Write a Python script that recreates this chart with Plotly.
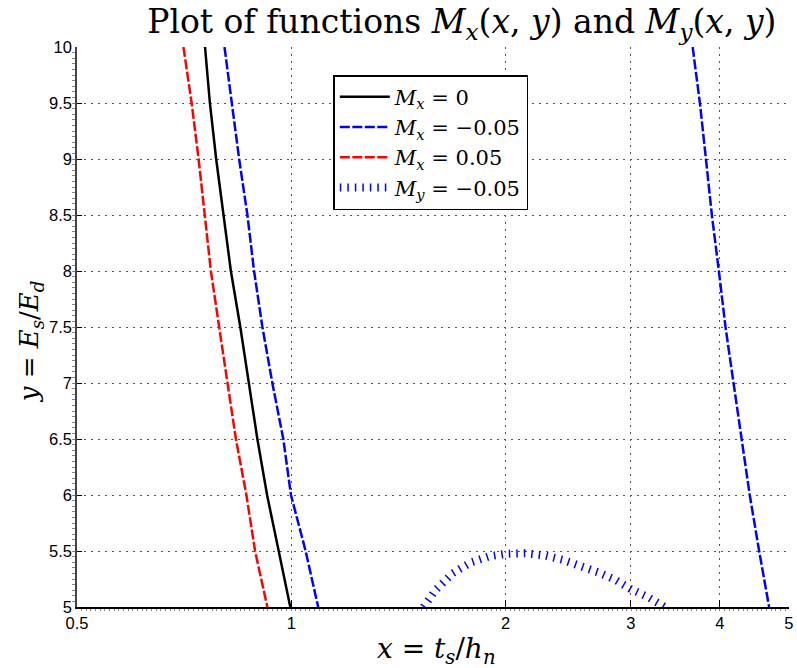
import plotly.graph_objects as go

# y = Es/Ed levels at which the contours were traced
y_levels = [10, 9.5, 9, 8.5, 8, 7.5, 7, 6.5, 6, 5.5, 5]

# Mx = 0 contour
x_mx0 = [0.7565, 0.7685, 0.7843, 0.8024, 0.8225, 0.8480, 0.8726, 0.8961, 0.9247, 0.9589, 0.9968]
# Mx = 0.05 contour
x_mx_pos = [0.7055, 0.7245, 0.7410, 0.7565, 0.7710, 0.7919, 0.8134, 0.8360, 0.8649, 0.8895, 0.9256]
# Mx = -0.05 contour, left and right branches
x_mx_neg_left = [0.8057, 0.8241, 0.8448, 0.8677, 0.8866, 0.9108, 0.9406, 0.9745, 0.9990, 1.0475, 1.0909]
x_mx_neg_right = [3.663, 3.750, 3.824, 3.898, 3.987, 4.074, 4.181, 4.290, 4.406, 4.542, 4.691]

# My = -0.05 contour
x_my = [1.534, 1.594, 1.684, 1.791, 1.891, 1.998, 2.131, 2.273, 2.409, 2.553, 2.697, 2.849, 2.999, 3.168, 3.293, 3.347]
y_my = [5.0, 5.15, 5.30, 5.40, 5.45, 5.475, 5.48, 5.46, 5.42, 5.37, 5.31, 5.245, 5.16, 5.09, 5.035, 5.0]

x_ticks = [0.5, 1, 2, 3, 4, 5]
x_ticklabels = ["0.5", "1", "2", "3", "4", "5"]
y_ticks = [5, 5.5, 6, 6.5, 7, 7.5, 8, 8.5, 9, 9.5, 10]
y_ticklabels = ["5", "5.5", "6", "6.5", "7", "7.5", "8", "8.5", "9", "9.5", "10"]

SERIF = "DejaVu Serif, serif"
SANS = "Liberation Sans, Arial, sans-serif"

fig = go.Figure()

fig.add_trace(go.Scatter(
    x=x_mx0, y=y_levels, mode="lines",
    line=dict(color="black", width=2.5),
    name="<i>M</i><sub><i>x</i></sub> = 0",
))
fig.add_trace(go.Scatter(
    x=x_mx_neg_left + [None] + x_mx_neg_right,
    y=y_levels + [None] + y_levels,
    mode="lines", connectgaps=False,
    line=dict(color="#0000ff", width=2.5, dash="10px,2.5px"),
    name="<i>M</i><sub><i>x</i></sub> = −0.05",
))
fig.add_trace(go.Scatter(
    x=x_mx_pos, y=y_levels, mode="lines",
    line=dict(color="#ff0000", width=2.5, dash="10px,2.5px"),
    name="<i>M</i><sub><i>x</i></sub> = 0.05",
))
fig.add_trace(go.Scatter(
    x=x_my, y=y_my, mode="lines",
    line=dict(color="#0000ff", width=8, dash="1.5px,6px"),
    name="<i>M</i><sub><i>y</i></sub> = −0.05",
))

# geometric minor tick positions along the log x axis
x_minor = [0.5 * 2 ** (k / 46) for k in range(0, 154)]

fig.update_xaxes(
    type="log", range=[-0.30103, 0.6992],
    tickmode="array", tickvals=x_ticks, ticktext=x_ticklabels,
    ticks="inside", ticklen=7, tickwidth=1, tickcolor="black",
    ticklabeloverflow="allow",
    showline=True, linecolor="black", linewidth=1.5, mirror=False,
    showgrid=True, gridcolor="#555555", gridwidth=1, griddash="1.5px,5.5px",
    zeroline=False,
    tickfont=dict(family=SANS, size=16.5, color="black"),
    minor=dict(ticks="outside", ticklen=2, tickcolor="#888888", tickvals=x_minor, showgrid=False),
)
fig.update_yaxes(
    range=[5, 10],
    tickmode="array", tickvals=y_ticks, ticktext=y_ticklabels,
    ticks="inside", ticklen=5, tickwidth=1, tickcolor="black",
    showline=True, linecolor="#444444", linewidth=1.5, mirror=False,
    showgrid=True, gridcolor="#555555", gridwidth=1, griddash="1.5px,5.5px",
    zeroline=False,
    tickfont=dict(family=SANS, size=16.5, color="black"),
    minor=dict(ticks="outside", ticklen=3, tickcolor="#888888", dtick=0.05, tick0=5, showgrid=False),
)

fig.update_layout(
    width=797, height=668,
    margin=dict(l=77, r=4, t=47, b=61),
    paper_bgcolor="white", plot_bgcolor="white",
    title=dict(
        text="Plot of functions <i>M</i><sub><i>x</i></sub>(<i>x</i>, <i>y</i>) and "
             "<i>M</i><sub><i>y</i></sub>(<i>x</i>, <i>y</i>)",
        x=0.5405, xref="paper", xanchor="center",
        y=0.968, yref="container", yanchor="middle",
        font=dict(family=SERIF, size=33, color="black"),
    ),
    legend=dict(
        x=0.36, y=0.95, xanchor="left", yanchor="top",
        bgcolor="white", bordercolor="black", borderwidth=1.5,
        font=dict(family=SERIF, size=21, color="black"),
        itemwidth=50, tracegroupgap=0,
    ),
    annotations=[
        dict(text="<i>x</i> = <i>t</i><sub><i>s</i></sub>/<i>h</i><sub><i>n</i></sub>",
             xref="paper", yref="paper", x=0.505, y=-0.077, xanchor="center", yanchor="middle",
             showarrow=False, font=dict(family=SERIF, size=28, color="black")),
        dict(text="<i>y</i> = <i>E</i><sub><i>s</i></sub>/<i>E</i><sub><i>d</i></sub>",
             xref="paper", yref="paper", x=-0.0656, y=0.475, xanchor="center", yanchor="middle",
             textangle=-90, showarrow=False, font=dict(family=SERIF, size=26, color="black")),
    ],
)

fig.write_html("out.html")
